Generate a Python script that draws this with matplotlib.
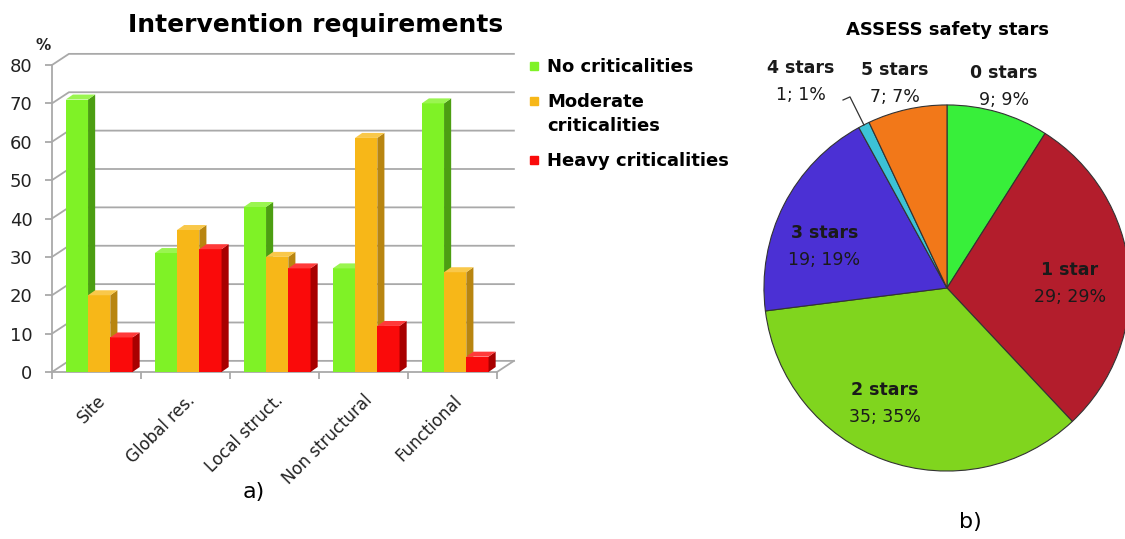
import numpy as np
import matplotlib
matplotlib.use("Agg")
import matplotlib.pyplot as plt
from matplotlib.patches import Polygon, Rectangle

# bar chart data (% of buildings)
categories = ['Site', 'Global res.', 'Local struct.', 'Non structural', 'Functional']
series_names = ['No criticalities', 'Moderate\ncriticalities', 'Heavy criticalities']
no_crit = [71, 31, 43, 27, 70]
moderate_crit = [20, 37, 30, 61, 26]
heavy_crit = [9, 32, 27, 12, 4]
yticks = [0, 10, 20, 30, 40, 50, 60, 70, 80]

# pie data
star_labels = ['0 stars', '1 star', '2 stars', '3 stars', '4 stars', '5 stars']
star_counts = [9, 29, 35, 19, 1, 7]
star_pct = [9, 29, 35, 19, 1, 7]

front_cols = ['#7ff226', '#f7b718', '#fa0a0a']
side_cols = ['#4c9e12', '#b88510', '#a80000']
top_cols = ['#9af550', '#f9c84a', '#ff3a3a']
pie_cols = ['#38ef3a', '#b31d2c', '#80d51e', '#4b30d4', '#3cc2d6', '#f27819']

fig = plt.figure(figsize=(11.25, 5.39), dpi=100)

# ---------------- a) bar chart with fake 3D look ----------------
ax = fig.add_axes([52/1125, 1-372/539, 445/1125, 307/539])
ax.set_xlim(-0.5, 4.5)
ax.set_ylim(0, 80)

wdx, wdy = 0.19, 2.9   # back wall offset
bdx, bdy = 0.08, 1.3   # bar depth
grid_c = '#a9a9a9'
for v in yticks:
    ax.plot([-0.5, -0.5+wdx, 4.5+wdx], [v, v+wdy, v+wdy], color=grid_c, lw=1.3,
            clip_on=False, zorder=1)
ax.plot([4.5, 4.5+wdx], [0, wdy], color=grid_c, lw=1.3, clip_on=False, zorder=1)

x = np.arange(len(categories))
w = 0.25
all_vals = [no_crit, moderate_crit, heavy_crit]
for i, vals in enumerate(all_vals):
    xs = x + (i-1)*w + 0.03
    ax.bar(xs, vals, width=w, color=front_cols[i], zorder=3+i)
    for xc, h in zip(xs, vals):
        r = xc + w/2
        l = xc - w/2
        # side face and top face
        ax.add_patch(Polygon([(r, 0), (r+bdx, bdy), (r+bdx, h+bdy), (r, h)],
                             closed=True, color=side_cols[i], zorder=3+i, lw=0))
        ax.add_patch(Polygon([(l, h), (l+bdx, h+bdy), (r+bdx, h+bdy), (r, h)],
                             closed=True, color=top_cols[i], zorder=3+i, lw=0))

for s in ['top', 'right']:
    ax.spines[s].set_visible(False)
for s in ['left', 'bottom']:
    ax.spines[s].set_color(grid_c)
    ax.spines[s].set_linewidth(1.3)
ax.set_yticks(yticks)
ax.tick_params(axis='y', colors=grid_c, labelcolor='#222222', labelsize=13,
               length=5, width=1.3, pad=9)
ax.set_xticks(x)
ax.set_xticklabels(categories, rotation=45, ha='right', rotation_mode='anchor',
                   fontsize=12, color='#222222')
ax.tick_params(axis='x', length=0, pad=14)
ax.set_xticks(np.arange(-0.5, 5, 1), minor=True)
ax.tick_params(axis='x', which='minor', length=5, width=1.3, colors=grid_c)

fig.text(43/1125, 1-45/539, '%', fontsize=11, fontweight='bold', ha='center',
         va='center', color='#222222')
fig.text(316/1125, 1-25/539, 'Intervention requirements', fontsize=18,
         fontweight='bold', ha='center', va='center')

# legend drawn by hand (marker sits next to the first text line)
leg_y = [66, 101, 160]
for i, name in enumerate(series_names):
    fig.add_artist(Rectangle((530/1125, 1-(leg_y[i]+4)/539), 8/1125, 8/539,
                             transform=fig.transFigure, color=front_cols[i]))
    fig.text(547/1125, 1-(leg_y[i]-8)/539, name, fontsize=13, fontweight='bold',
             ha='left', va='top', linespacing=1.45)

fig.text(254/1125, 1-492/539, 'a)', fontsize=16, ha='center', va='center')

# ---------------- b) pie chart ----------------
pax = fig.add_axes([(947-190)/1125, (539-288-190)/539, 380/1125, 380/539])
wedges, _ = pax.pie(star_counts, colors=pie_cols, startangle=90, counterclock=False,
                    wedgeprops=dict(edgecolor='#333333', linewidth=0.8))
pax.set_xlim(-1.038, 1.038)
pax.set_ylim(-1.038, 1.038)
pax.set_aspect('equal')
pax.axis('off')

lab_pos = [(0.31, 1.10), (0.67, 0.025), (-0.34, -0.63),
           (-0.67, 0.227), (-0.80, 1.13), (-0.285, 1.117)]
for i, (lx, ly) in enumerate(lab_pos):
    pax.text(lx, ly+0.074, star_labels[i], fontsize=12.5, fontweight='bold',
             ha='center', va='center', color='#1a1a1a', clip_on=False)
    pax.text(lx, ly-0.074, '%d; %d%%' % (star_counts[i], star_pct[i]), fontsize=12.5,
             ha='center', va='center', color='#1a1a1a', clip_on=False)

# leader line for the tiny 4 stars slice
wd = wedges[4]
mid = np.deg2rad((wd.theta1 + wd.theta2)/2)
pax.plot([-0.568, -0.53, np.cos(mid)], [1.027, 1.044, np.sin(mid)],
         color='#333333', lw=0.9, clip_on=False)

fig.text(948/1125, 1-30/539, 'ASSESS safety stars', fontsize=13, fontweight='bold',
         ha='center', va='center')
fig.text(970/1125, 1-522/539, 'b)', fontsize=16, ha='center', va='center')

fig.savefig('out.png', dpi=100)
